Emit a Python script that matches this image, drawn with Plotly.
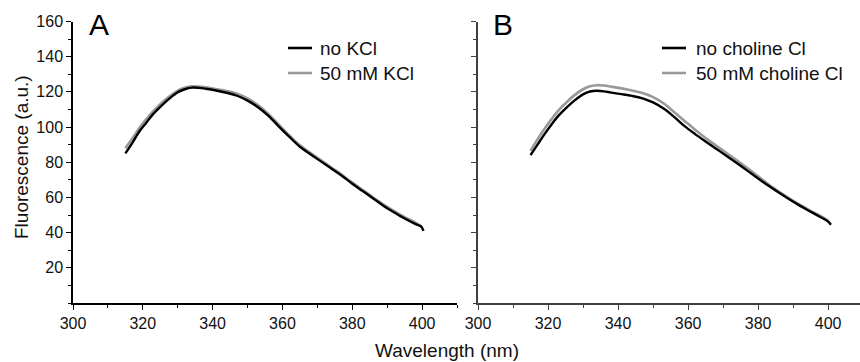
import plotly.graph_objects as go

W, H = 860, 362

# ---------------- data ----------------
wl_a_black = [315, 317, 319, 321, 323, 325, 327.5, 330, 332, 334, 336, 338, 341, 344, 347, 350, 353, 356, 359, 362, 365, 368, 371, 374, 377, 380, 383, 386, 389, 392, 395, 398, 399.7, 400.4]
fl_a_black = [85, 91, 97.5, 102.5, 107.5, 111.5, 116, 119.8, 121.5, 122.4, 122.3, 121.8, 120.8, 119.5, 117.8, 115, 111.3, 106.4, 100.3, 94.4, 88.8, 84.6, 80.5, 76.4, 72.3, 67.8, 63.6, 59.4, 55.2, 51.5, 48, 45, 43.5, 41]

wl_a_gray = [315, 317, 319, 321, 323, 325, 327.5, 330, 332, 334, 336, 338, 341, 344, 347, 350, 353, 356, 359, 362, 365, 368, 371, 374, 377, 380, 383, 386, 389, 392, 395, 398, 400]
fl_a_gray = [88, 93.5, 99.5, 104.5, 109, 113, 117.2, 120.7, 122.3, 123.1, 123, 122.6, 121.6, 120.5, 119, 116.3, 112.5, 107.3, 101.2, 95.2, 89.6, 85.3, 81.2, 77, 72.9, 68.4, 64.2, 60, 55.9, 52.2, 48.8, 45.8, 43.2]

wl_b_black = [315, 317, 319, 321, 323, 325, 327.5, 330, 332, 334, 336, 338, 341, 344, 347, 350, 353, 356, 359, 362, 365, 368, 371, 374, 377, 380, 383, 386, 389, 392, 395, 398, 400, 400.8]
fl_b_black = [84, 90, 96, 101.5, 106.5, 110.5, 115, 118.6, 120.2, 120.6, 120.3, 119.6, 118.7, 117.7, 116.3, 114, 110.5, 105.8, 100.5, 96, 91.8, 87.7, 83.6, 79.4, 75.1, 70.8, 66.6, 62.6, 58.8, 55.2, 51.9, 48.6, 46.3, 44.5]

wl_b_gray = [315, 317, 319, 321, 323, 325, 327.5, 330, 332, 334, 336, 338, 341, 344, 347, 350, 353, 356, 359, 362, 365, 368, 371, 374, 377, 380, 383, 386, 389, 392, 395, 398, 400]
fl_b_gray = [86.5, 93, 99, 104.5, 109.5, 113.5, 118, 121.5, 123.2, 123.8, 123.6, 123, 122, 120.8, 119.3, 117, 113.5, 108.5, 103.5, 98.5, 93.8, 89.5, 85.2, 81, 76.6, 72, 67.3, 63.2, 59.4, 55.8, 52.4, 49.2, 46.8]

legend_a = ["no KCl", "50 mM KCl"]
legend_b = ["no choline Cl", "50 mM choline Cl"]
panel_labels = ["A", "B"]
y_tick_vals = [20, 40, 60, 80, 100, 120, 140, 160]
x_tick_vals = [300, 320, 340, 360, 380, 400]

BLACK = "#000000"
GRAY = "#999999"
FONT = "Liberation Sans, Arial, sans-serif"


def px(x):
    return x / W


def py(y):
    return 1 - y / H


fig = go.Figure()
fig.add_trace(go.Scatter(x=wl_a_gray, y=fl_a_gray, mode="lines", line=dict(color=GRAY, width=2.6, shape="spline"),
                         xaxis="x", yaxis="y", showlegend=False))
fig.add_trace(go.Scatter(x=wl_a_black, y=fl_a_black, mode="lines", line=dict(color=BLACK, width=2.4, shape="spline"),
                         xaxis="x", yaxis="y", showlegend=False))
fig.add_trace(go.Scatter(x=wl_b_gray, y=fl_b_gray, mode="lines", line=dict(color=GRAY, width=2.6, shape="spline"),
                         xaxis="x2", yaxis="y2", showlegend=False))
fig.add_trace(go.Scatter(x=wl_b_black, y=fl_b_black, mode="lines", line=dict(color=BLACK, width=2.4, shape="spline"),
                         xaxis="x2", yaxis="y2", showlegend=False))

ydom = [py(303), py(21.5)]


def xaxis(dom, rng, col):
    return dict(domain=dom, range=rng, showline=True, linecolor=col, linewidth=1.5, mirror=False,
                ticks="outside", ticklen=5, tickwidth=1.3, tickcolor=col, tickvals=x_tick_vals,
                minor=dict(ticks="outside", ticklen=3, tickwidth=1.2, tickcolor=col, dtick=10, tick0=300),
                showgrid=False, zeroline=False, tickfont=dict(family=FONT, size=16, color="#111"),
                fixedrange=True, automargin=False)


def yaxis(anchor, col, labels):
    return dict(domain=ydom, range=[0, 160], anchor=anchor, showline=True, linecolor=col, linewidth=1.5,
                ticks="outside", ticklen=5, tickwidth=1.3, tickcolor=col, tickvals=y_tick_vals,
                minor=dict(ticks="outside", ticklen=3, tickwidth=1.2, tickcolor=col, dtick=10, tick0=0),
                showticklabels=labels, showgrid=False, zeroline=False,
                tickfont=dict(family=FONT, size=16, color="#111"), fixedrange=True, automargin=False)


fig.update_layout(
    width=W, height=H, margin=dict(l=0, r=0, t=0, b=0, autoexpand=False),
    paper_bgcolor="white", plot_bgcolor="white",
    xaxis=dict(xaxis([px(73), px(457)], [300, 410], "#000"), anchor="y"),
    yaxis=yaxis("x", "#000", True),
    xaxis2=dict(xaxis([px(478), 1.0], [300, 409.1], "#404040"), anchor="y2"),
    yaxis2=yaxis("x2", "#404040", False),
    showlegend=False,
)

annotations = []
shapes = []
# Panel labels
for lab, xc in zip(panel_labels, [99, 503]):
    annotations.append(dict(text=lab, x=px(xc), y=py(24), xref="paper", yref="paper", showarrow=False,
                            xanchor="center", yanchor="middle", font=dict(family=FONT, size=30, color="#000")))

# Legends
for labels, x0, x1, xt in [(legend_a, 288, 312, 318), (legend_b, 662, 686, 694)]:
    for lab, col, yc in zip(labels, [BLACK, GRAY], [48, 73]):
        shapes.append(dict(type="line", xref="paper", yref="paper", x0=px(x0), x1=px(x1), y0=py(yc), y1=py(yc),
                           line=dict(color=col, width=2.6)))
        annotations.append(dict(text=lab, x=px(xt), y=py(yc), xref="paper", yref="paper", showarrow=False,
                                xanchor="left", yanchor="middle", font=dict(family=FONT, size=19, color="#111")))

# Axis titles
annotations.append(dict(text="Fluorescence (a.u.)", x=px(22), y=py(157), xref="paper", yref="paper",
                        showarrow=False, textangle=-90, xanchor="center", yanchor="middle",
                        font=dict(family=FONT, size=19, color="#111")))
annotations.append(dict(text="Wavelength (nm)", x=px(447), y=py(350), xref="paper", yref="paper",
                        showarrow=False, xanchor="center", yanchor="middle",
                        font=dict(family=FONT, size=19, color="#111")))

fig.update_layout(annotations=annotations, shapes=shapes)
fig.write_html("out.html")
